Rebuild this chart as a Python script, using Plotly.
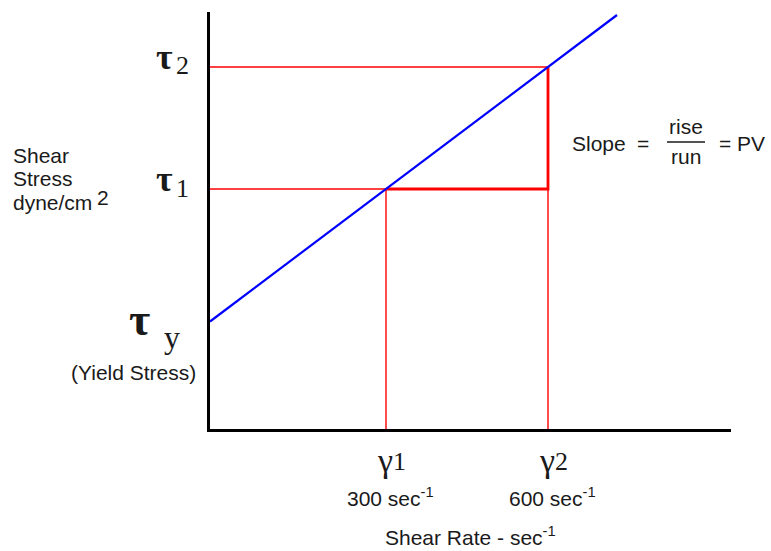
import plotly.graph_objects as go

# ---- data (schematic diagram units: 1 unit ~ 1 px) ----
gamma_pos = [176, 338]                 # positions of gamma1, gamma2 on x axis
gamma_names = ["γ", "γ"]
gamma_subs = ["1", "2"]
gamma_rates = ["300 sec<sup>-1</sup>", "600 sec<sup>-1</sup>"]
tau_y = 107.5                          # yield stress level
tau_levels = [240, 362]                # tau1, tau2
tau_subs = ["1", "2"]
line_x = [0, 407]                      # Bingham plastic line
line_y = [107.5, 414]
x_range = [0, 521]
y_range = [0, 417]

RED = "#FF0000"
BLUE = "#0000FF"
SANS = "Liberation Sans"
SERIF = "Liberation Serif"
TXT = "#1a1a1a"
FS = 21

fig = go.Figure()

# thin red guide lines
g1, g2 = gamma_pos
t1, t2 = tau_levels
thin_x = [x_range[0], g2, None, x_range[0], g1, None, g1, g1, None, g2, g2]
thin_y = [t2, t2, None, t1, t1, None, 0, t1, None, 0, t1]
fig.add_trace(go.Scatter(x=thin_x, y=thin_y, mode="lines",
                         line=dict(color=RED, width=1.4), hoverinfo="skip"))
# thick red rise/run
fig.add_trace(go.Scatter(x=[g1, g2, g2], y=[t1, t1, t2], mode="lines",
                         line=dict(color=RED, width=2.8), hoverinfo="skip"))
# blue line
fig.add_trace(go.Scatter(x=line_x, y=line_y, mode="lines",
                         line=dict(color=BLUE, width=2.2), hoverinfo="skip"))

L, R, T, B = 210, 731, 12, 429
W, H = 771, 551


def px(x):
    return (x - L) / (R - L)


def py(y):
    return (B - y) / (B - T)


def ypix_of(v):
    return B - (v - y_range[0]) * (B - T) / (y_range[1] - y_range[0])


def xpix_of(v):
    return L + (v - x_range[0]) * (R - L) / (x_range[1] - x_range[0])


anns = []


def add(text, x, y, size, family=SANS, xanchor="center", yanchor="middle", color=TXT):
    anns.append(dict(text=text, x=px(x), y=py(y), xref="paper", yref="paper",
                     showarrow=False, xanchor=xanchor, yanchor=yanchor,
                     font=dict(size=size, family=family, color=color)))


# y-axis title
add("Shear", 11, 155, FS, xanchor="left")
add("Stress", 11, 179, FS, xanchor="left")
add("dyne/cm", 11, 202, FS, xanchor="left")
add("2", 95, 197, FS, xanchor="left")

# tau labels
for lvl, sub in zip(tau_levels, tau_subs):
    yp = ypix_of(lvl)
    add("<b>τ</b>", 164, yp - 10, 36, family=SERIF)
    add(sub, 182, yp - 1, 26, family=SERIF)
yp = ypix_of(tau_y)
add("<b>τ</b>", 139, yp - 2, 46, family=SERIF)
add("y", 172, yp + 15, 32, family=SERIF)
add("(Yield Stress)", 133, 372, FS)

# gamma labels
for gp, nm, sub, rate in zip(gamma_pos, gamma_names, gamma_subs, gamma_rates):
    xp = xpix_of(gp)
    add(nm, xp - 1, 460, 34, family=SERIF)
    add(sub, xp + 13, 461, 26, family=SERIF)
    add(rate, xp + 4, 497, FS)

add("Shear Rate - sec<sup>-1</sup>", 470, 536, FS)

# slope formula
add("Slope", 570, 143, FS, xanchor="left")
add("=", 643, 143, FS)
add("rise", 686, 127, FS)
add("run", 686, 157, FS)
add("= PV", 717, 143, FS, xanchor="left")

fig.add_shape(type="line", xref="paper", yref="paper",
              x0=px(667), x1=px(705), y0=py(142), y1=py(142),
              line=dict(color=TXT, width=1.5))

fig.update_layout(
    width=W, height=H,
    margin=dict(l=L, r=W - R, t=T, b=H - B, pad=0),
    paper_bgcolor="white", plot_bgcolor="white",
    showlegend=False,
    annotations=anns,
    xaxis=dict(range=x_range, showgrid=False, zeroline=False, showticklabels=False,
               ticks="", showline=True, linecolor="black", linewidth=2.5, fixedrange=True),
    yaxis=dict(range=y_range, showgrid=False, zeroline=False, showticklabels=False,
               ticks="", showline=True, linecolor="black", linewidth=2.5, fixedrange=True),
)

fig.write_html("out.html")
